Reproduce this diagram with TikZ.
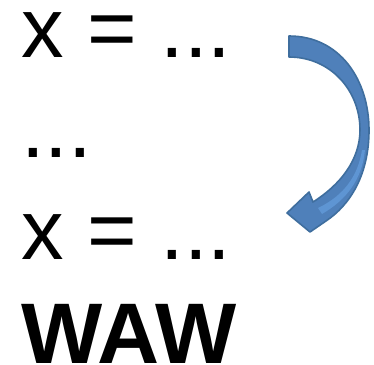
\documentclass[tikz,border=0pt]{standalone}
\usepackage{fontspec}
\setmainfont{Liberation Sans}
\definecolor{arrfill}{HTML}{4F80BA}
\definecolor{arrline}{HTML}{3F6E9E}
\definecolor{arrlight}{HTML}{5E95D3}
\tikzset{
  codeline/.style={anchor=base west, inner sep=0pt, text height=46pt, text depth=0pt, font=\fontsize{85}{100}\selectfont},
  wawtext/.style={anchor=base west, inner sep=0pt, text height=62pt, text depth=0pt, font=\fontsize{86}{100}\selectfont\bfseries},
}
\begin{document}
\begin{tikzpicture}[x=1pt,y=-1pt]
\useasboundingbox (0,0) rectangle (374,364);
\node[codeline] (l1) at (21,57) {x = ...};
\node[codeline] (l2) at (21,157) {...};
\node[codeline] (l3) at (21,259) {x = ...};
\node[wawtext] (waw) at (21,363) {WAW};
% curved arrow
\filldraw[fill=arrfill, draw=arrline, line width=1.6pt, line join=round]
  (289,36) .. controls (340,36) and (369,80) .. (369,130)
  .. controls (369,175) and (350,205) .. (326,221)
  -- (310,232) -- (287,213) -- (309,192) -- (313,202)
  .. controls (340,185) and (360,160) .. (360,130)
  .. controls (360,90) and (330,57) .. (289,57) -- cycle;
\fill[arrlight]
  (362,150) .. controls (358,175) and (345,195) .. (318,208)
  -- (322,214) .. controls (346,200) and (362,180) .. (365,150) -- cycle;
\end{tikzpicture}
\end{document}
